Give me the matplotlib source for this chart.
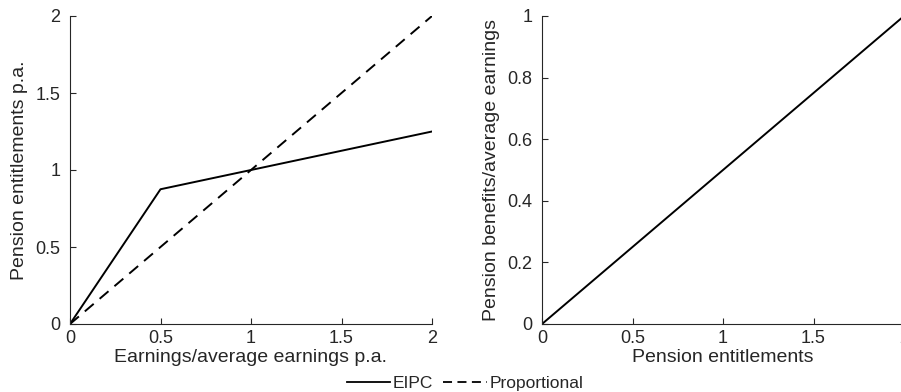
import matplotlib.pyplot as plt
from matplotlib.lines import Line2D

plt.rcParams['font.family'] = ['Liberation Sans', 'DejaVu Sans']

# Earnings -> entitlements (kinked EIPC rule vs proportional)
earnings = [0, 0.5, 1, 2]
eipc = [0, 0.875, 1, 1.25]
prop_x = [0, 2]
prop_y = [0, 2]

# Entitlements -> benefits
entitlements = [0, 2]
benefits = [0, 1]

grey = '#262626'
W, H = 901, 392
fig = plt.figure(figsize=(W / 100, H / 100), dpi=100)

def px_axes(x0, y0, x1, y1):
    return fig.add_axes([x0 / W, 1 - y1 / H, (x1 - x0) / W, (y1 - y0) / H])

ax1 = px_axes(70, 16, 432, 324)
ax2 = px_axes(542, 16, 904, 324)

ax1.plot(earnings, eipc, color='k', lw=1.4)
ax1.plot(prop_x, prop_y, color='k', lw=1.4, ls=(0, (6, 4)))
ax1.set_xlim(0, 2)
ax1.set_ylim(0, 2)
ax1.set_xticks([0, 0.5, 1, 1.5, 2])
ax1.set_xticklabels(['0', '0.5', '1', '1.5', '2'])
ax1.set_yticks([0, 0.5, 1, 1.5, 2])
ax1.set_yticklabels(['0', '0.5', '1', '1.5', '2'])
ax1.set_xlabel('Earnings/average earnings p.a.', fontsize=14, color=grey, labelpad=2)
ax1.set_ylabel('Pension entitlements p.a.', fontsize=14, color=grey, labelpad=5)

ax2.plot(entitlements, benefits, color='k', lw=1.4)
ax2.set_xlim(0, 2)
ax2.set_ylim(0, 1)
ax2.set_xticks([0, 0.5, 1, 1.5, 2])
ax2.set_xticklabels(['0', '0.5', '1', '1.5', '2'])
ax2.set_yticks([0, 0.2, 0.4, 0.6, 0.8, 1])
ax2.set_yticklabels(['0', '0.2', '0.4', '0.6', '0.8', '1'])
ax2.set_xlabel('Pension entitlements', fontsize=14, color=grey, labelpad=2)
ax2.set_ylabel('Pension benefits/average earnings', fontsize=14, color=grey, labelpad=5)

for ax in (ax1, ax2):
    for s in ('top', 'right'):
        ax.spines[s].set_visible(False)
    for s in ('left', 'bottom'):
        ax.spines[s].set_color(grey)
        ax.spines[s].set_linewidth(0.8)
    ax.tick_params(direction='in', length=4, width=0.8, colors=grey,
                   labelsize=13, pad=4)
    ax.tick_params(axis='y', pad=7)
    ax.set_clip_on(False)

handles = [Line2D([], [], color='k', lw=1.3),
           Line2D([], [], color='k', lw=1.3, ls=(0, (5, 3)))]
fig.legend(handles, ['EIPC', 'Proportional'], loc='center',
           bbox_to_anchor=(465 / W, 1 - 383 / H), ncol=2, frameon=False,
           fontsize=12.5, handlelength=2.5, handletextpad=0.15,
           columnspacing=0.6, labelcolor=grey, borderpad=0)

fig.savefig('out.png', dpi=100)
